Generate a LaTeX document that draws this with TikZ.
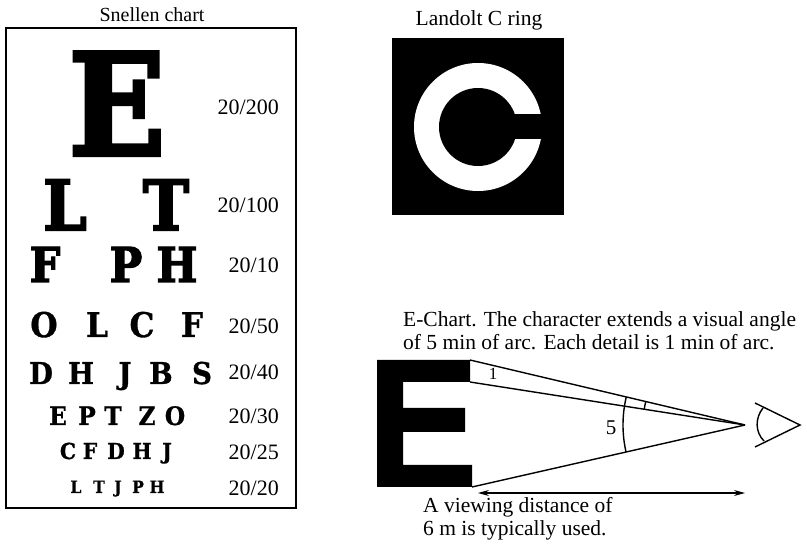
\documentclass[tikz,border=0pt]{standalone}
\usepackage{fontspec}
\setmainfont{Liberation Serif}
\newfontfamily\snelfat{DejaVu Serif}[BoldFeatures={FakeBold=3}]
\newfontfamily\snel{DejaVu Serif}[BoldFeatures={FakeBold=1}]
\usetikzlibrary{arrows.meta}
\tikzset{
  ltbig/.style={anchor=base, inner sep=0pt, xscale=0.9, font=\snelfat\bfseries\fontsize{#1}{#1}\selectfont},
  lt/.style={anchor=base, inner sep=0pt, xscale=0.92, font=\snel\bfseries\fontsize{#1}{#1}\selectfont},
  acuity/.style={anchor=east, inner sep=0pt, font=\fontsize{22}{22}\selectfont},
  ttl/.style={inner sep=0pt, font=\fontsize{#1}{#1}\selectfont},
  captxt/.style={anchor=west, inner sep=0pt, font=\fontsize{21.5}{23}\selectfont, align=left},
  ln/.style={line width=1.4pt},
}
\begin{document}
\begin{tikzpicture}[x=1pt,y=-1pt]
\useasboundingbox (0,0) rectangle (807,545);
% ---------- Snellen chart ----------
\node[ttl=20] (snt) at (152,15) {Snellen chart};
\draw[line width=2pt] (6,28) rectangle (296,508);
\node[ltbig=141] (e1) at (117,155) {E};
\node[ltbig=69] (l2a) at (65,230) {L};
\node[ltbig=69] (l2b) at (166,230) {T};
\node[ltbig=48] (l3a) at (45,282) {F};
\node[ltbig=48] (l3b) at (126,282) {P};
\node[ltbig=48] (l3c) at (177,282) {H};
\node[lt=34] at (44,337) {O};
\node[lt=34] at (97,337) {L};
\node[lt=34] at (142,337) {C};
\node[lt=34] at (192,337) {F};
\node[lt=30] at (41,384) {D};
\node[lt=30] at (81,384) {H};
\node[lt=30] at (125,384) {J};
\node[lt=30] at (161,384) {B};
\node[lt=30] at (202,384) {S};
\node[lt=25.4] at (58,425) {E};
\node[lt=25.4] at (87,425) {P};
\node[lt=25.4] at (113,425) {T};
\node[lt=25.4] at (147,425) {Z};
\node[lt=25.4] at (175,425) {O};
\node[lt=22] at (68,459) {C};
\node[lt=22] at (90,459) {F};
\node[lt=22] at (116,459) {D};
\node[lt=22] at (142,459) {H};
\node[lt=22] at (167,459) {J};
\node[lt=17] at (76,493) {L};
\node[lt=17] at (99,493) {T};
\node[lt=17] at (118,493) {J};
\node[lt=17] at (138,493) {P};
\node[lt=17] at (157,493) {H};
\node[acuity] (a1) at (279,107) {20/200};
\node[acuity] (a2) at (279,205) {20/100};
\node[acuity] (a3) at (279,265) {20/10};
\node[acuity] (a4) at (279,326) {20/50};
\node[acuity] (a5) at (279,372) {20/40};
\node[acuity] (a6) at (279,416) {20/30};
\node[acuity] (a7) at (279,452) {20/25};
\node[acuity] (a8) at (279,488) {20/20};
% ---------- Landolt C ----------
\node[ttl=21.5] (lct) at (479,20) {Landolt C ring};
\fill (392,38) rectangle (564,215);
\fill[white] (478,127) circle (64pt);
\fill (478,127) circle (39pt);
\fill (470,114) rectangle (546,139);
% ---------- E-chart ----------
\node[captxt] (ect) at (403,331) {E-Chart. The character extends a visual angle\\of 5 min of arc. Each detail is 1 min of arc.};
\fill (377,360) -- (470,360) -- (470,382) -- (403,382) -- (403,408) -- (465,408)
  -- (465,432) -- (403,432) -- (403,465) -- (472,465) -- (472,487) -- (377,487) -- cycle;
\coordinate (apex) at (745,425);
\coordinate (t1) at (470,360);
\coordinate (t2) at (470,382);
\coordinate (b1) at (472,487);
\draw[ln] (t1) -- (apex);
\draw[ln] (t2) -- (apex);
\draw[ln] (b1) -- (apex);
\draw[ln] (apex) ++(166.7:122pt) arc[start angle=166.7, end angle=192.8, radius=122pt];
\draw[ln] (apex) ++(166.7:102pt) arc[start angle=166.7, end angle=171.1, radius=102pt];
\node[inner sep=0pt, font=\fontsize{17}{17}\selectfont] (one) at (493,374) {1};
\node[inner sep=0pt, font=\fontsize{21}{21}\selectfont] (five) at (611,428) {5};
% eye
\coordinate (ey1) at (755,403);
\coordinate (ey2) at (800,425);
\coordinate (ey3) at (755,447);
\draw[ln] (ey1) -- (ey2) -- (ey3);
\draw[ln] (763,408) .. controls (755,418) and (755,432) .. (764,441);
% distance arrow
\coordinate (dl) at (478,493);
\coordinate (dr) at (745,493);
\draw[line width=1.2pt, {Stealth[length=11pt,width=6pt]}-{Stealth[length=11pt,width=6pt]}] (dl) -- (dr);
\node[captxt] (dist) at (423,519) {A viewing distance of\\6 m is typically used.};
\end{tikzpicture}
\end{document}
